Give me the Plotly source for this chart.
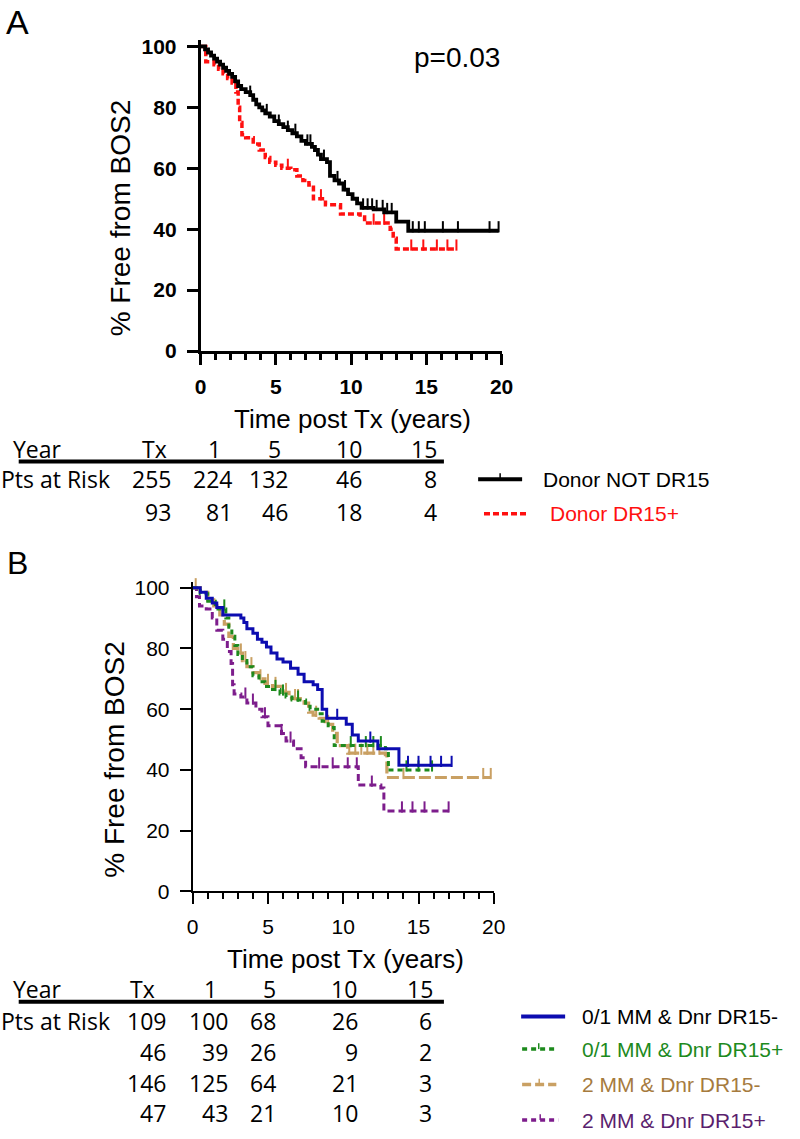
import plotly.graph_objects as go

# ---------------- Panel A data ----------------
a_not_t = [0, 0.3, 0.5, 0.7, 0.9, 1.1, 1.3, 1.5, 1.7, 1.9, 2.1, 2.3, 2.5, 2.7, 3.0, 3.3, 3.5, 3.7, 3.9,
           4.1, 4.3, 4.6, 4.9, 5.2, 5.5, 5.8, 6.1, 6.4, 6.7, 7.0, 7.4, 7.6, 7.8, 8.0, 8.4, 8.6, 8.9, 9.2,
           9.5, 9.8, 10.1, 10.4, 10.7, 11.5, 12.2, 13.0, 13.8, 19.8]
a_not_s = [100, 99, 98, 97, 96, 95, 94, 93, 92, 91, 90, 88.5, 87, 86, 85, 84, 82.5, 81, 80,
           79, 78, 77, 75.5, 74.5, 73.5, 72.5, 71.5, 70.5, 69, 68, 67, 66, 64.5, 63, 62, 57.5, 56, 55,
           53, 51.5, 50, 48.5, 47, 46.5, 45.5, 42.5, 39.5, 39.5]
a_not_cens = [3.3, 4.4, 5.2, 5.8, 6.3, 7.1, 7.3, 8.2, 9.1, 9.6, 10.8, 11.1, 11.4, 11.7, 12.1, 12.4,
              12.7, 14.1, 14.5, 14.9, 16.1, 17.1, 19.2, 19.8]

a_dr15_t = [0, 0.35, 0.9, 1.2, 1.5, 1.8, 2.1, 2.35, 2.5, 2.6, 2.75, 3.0, 3.5, 3.9, 4.3, 4.6, 5.0, 5.4,
            6.0, 6.4, 6.8, 7.2, 7.5, 8.3, 9.3, 10.6, 10.9, 12.6, 12.8, 13.0, 17.0]
a_dr15_s = [100, 95, 94, 92.5, 91, 89.5, 88, 85, 80, 75, 71, 70, 68, 66, 63.5, 62, 61, 60,
            59.5, 57.5, 56, 54.5, 50, 48, 45, 44, 42, 40, 37, 33.5, 33.5]
a_dr15_cens = [5.8, 8.0, 11.5, 12.2, 14.0, 14.8, 15.7, 16.4, 17.0]

a_names = ["Donor NOT DR15", "Donor DR15+"]
a_years = ["Tx", "1", "5", "10", "15"]
a_risk = [[255, 224, 132, 46, 8],
          [93, 81, 46, 18, 4]]
a_pvalue = "p=0.03"

# ---------------- Panel B data ----------------
b_g1_t = [0, 0.5, 0.9, 1.3, 1.6, 2.0, 3.2, 3.4, 3.6, 4.0, 4.3, 4.6, 4.9, 5.2, 5.6, 6.0, 6.5, 7.0, 7.4,
          8.0, 8.3, 8.6, 8.9, 10.2, 10.6, 11.0, 12.3, 13.7, 17.2]
b_g1_s = [100, 98.5, 96.5, 95, 93.5, 91, 90, 88.5, 86.5, 85, 83, 82, 80.5, 78.5, 76.5, 75.5, 73.5, 71.5, 69,
          68, 66.5, 60, 57, 55, 51.5, 49.5, 47, 41.5, 41.5]
b_g1_cens = [9.6, 11.8, 14.3, 15.0, 15.8, 16.5, 17.2]

b_g2_t = [0, 0.5, 1.0, 1.5, 2.2, 2.4, 2.6, 2.8, 3.0, 3.3, 3.6, 4.0, 4.4, 4.8, 5.3, 5.8, 6.2, 6.6, 7.5,
          7.8, 8.3, 8.6, 9.0, 9.4, 12.8, 13.0, 15.9]
b_g2_s = [100, 98, 95.5, 93, 90, 87, 84, 81, 78, 76, 74, 71, 69, 67.5, 66.5, 65, 64, 63, 61,
          60, 58.5, 56, 54, 48, 47, 40, 40]
b_g2_cens = [2.1, 5.5, 6.0, 7.0, 10.5, 11.5, 12.0, 12.5, 14.2, 15.0, 15.9]

b_g3_t = [0, 0.5, 1.0, 1.4, 1.8, 2.1, 2.4, 2.7, 3.0, 3.3, 3.6, 4.0, 4.4, 4.8, 5.3, 6.0, 6.4, 7.4, 7.7,
          8.0, 8.4, 8.8, 9.3, 9.6, 10.3, 12.8, 12.9, 19.8]
b_g3_s = [100, 98.5, 96, 94, 91, 88, 84, 80, 78.5, 76, 74, 72, 70, 68.5, 67.5, 65.5, 63.5, 62, 59,
          58, 57, 55, 52, 48, 45.5, 45, 37.5, 37.5]
b_g3_cens = [0.2, 3.2, 3.5, 3.9, 4.5, 5.0, 5.5, 6.2, 6.8, 7.0, 8.2, 9.0, 10.4, 10.8, 11.2, 11.6, 12.0,
             12.4, 14.0, 19.3, 19.8]

b_g4_t = [0, 0.25, 0.45, 0.9, 1.3, 1.6, 2.0, 2.3, 2.55, 2.65, 2.75, 3.2, 3.6, 4.2, 4.6, 5.0, 5.9, 6.2,
          6.7, 7.2, 7.5, 11.0, 12.5, 12.7, 17.0]
b_g4_s = [100, 97, 94, 93, 90, 86, 83, 79, 75, 68, 65, 64, 62, 60, 57.5, 54.5, 52, 49.5,
          47, 44, 41, 35, 34, 26.5, 26.5]
b_g4_cens = [3.5, 4.0, 4.8, 5.9, 6.5, 8.4, 9.3, 10.3, 10.9, 11.9, 13.9, 14.6, 15.4, 17.0]

b_names = ["0/1 MM & Dnr DR15-", "0/1 MM & Dnr DR15+", "2 MM & Dnr DR15-", "2 MM & Dnr DR15+"]
b_years = ["Tx", "1", "5", "10", "15"]
b_risk = [[109, 100, 68, 26, 6],
          [46, 39, 26, 9, 2],
          [146, 125, 64, 21, 3],
          [47, 43, 21, 10, 3]]

x_ticks = [0, 5, 10, 15, 20]
y_ticks = [0, 20, 40, 60, 80, 100]

# ---------------- helpers ----------------
W, H = 800, 1139
ARIAL = "Arial, Liberation Sans, sans-serif"
MYRIAD = "Open Sans, Noto Sans, sans-serif"


def px(x):
    return x / W


def py(y):
    return 1 - y / H


def step_at(ts, ss, c):
    val = ss[0]
    for t, s in zip(ts, ss):
        if t <= c:
            val = s
    return val


fig = go.Figure()


def add_curve(ts, ss, cens, color, width, dash, xa, ya):
    fig.add_trace(go.Scatter(x=ts, y=ss, mode="lines", line=dict(color=color, width=width, dash=dash, shape="hv"),
                             xaxis=xa, yaxis=ya, showlegend=False, hoverinfo="skip"))
    cy = [step_at(ts, ss, c) + 1.3 for c in cens]
    fig.add_trace(go.Scatter(x=cens, y=cy, mode="markers",
                             marker=dict(symbol="line-ns", size=8, line=dict(color=color, width=2)),
                             xaxis=xa, yaxis=ya, showlegend=False, hoverinfo="skip", cliponaxis=False))


BLACK = "#000000"
RED = "#ff1010"
BLUE = "#0c0cb0"
GREEN = "#1d8a1d"
TAN = "#c9a063"
PURPLE = "#7d1d8c"

add_curve(a_dr15_t, a_dr15_s, a_dr15_cens, RED, 3.5, "6px,3px", "x", "y")
add_curve(a_not_t, a_not_s, a_not_cens, BLACK, 3.8, "solid", "x", "y")

add_curve(b_g4_t, b_g4_s, b_g4_cens, PURPLE, 3, "7px,4px", "x2", "y2")
add_curve(b_g3_t, b_g3_s, b_g3_cens, TAN, 3.2, "12px,4px", "x2", "y2")
add_curve(b_g2_t, b_g2_s, b_g2_cens, GREEN, 3, "5px,4px", "x2", "y2")
add_curve(b_g1_t, b_g1_s, b_g1_cens, BLUE, 3, "solid", "x2", "y2")

# axes
def xaxis_cfg(x0, x1, bold, lw):
    return dict(domain=[px(x0), px(x1)], range=[0, 20], tickvals=x_ticks, ticks="outside",
                ticklen=11, tickwidth=lw, tickcolor="black", showline=True, linewidth=lw, linecolor="black",
                showgrid=False, zeroline=False, ticklabelstandoff=4,
                minor=dict(ticks="outside", dtick=1, tick0=0, ticklen=6, tickwidth=lw, tickcolor="black"),
                tickfont=dict(family=ARIAL, size=21, color="black", weight="bold" if bold else "normal"))


def yaxis_cfg(ytop, y0, bold, lw, anchor):
    # ytop: pixel of value 100, y0: pixel of value 0 -> range up to 102
    unit = (y0 - ytop) / 100
    top = y0 - 102 * unit
    return dict(domain=[py(y0), py(top)], range=[0, 102], tickvals=y_ticks, ticks="outside",
                ticklen=11, tickwidth=lw, tickcolor="black", showline=True, linewidth=lw, linecolor="black",
                showgrid=False, zeroline=False, ticklabelstandoff=6, anchor=anchor,
                tickfont=dict(family=ARIAL, size=21, color="black", weight="bold" if bold else "normal"))


fig.update_layout(
    width=W, height=H, margin=dict(l=0, r=0, t=0, b=0),
    paper_bgcolor="white", plot_bgcolor="white",
    xaxis=dict(xaxis_cfg(199, 507, True, 2.5), anchor="y"),
    yaxis=yaxis_cfg(42, 351, True, 2.5, "x"),
    xaxis2=dict(xaxis_cfg(191, 499, False, 2), anchor="y2"),
    yaxis2=yaxis_cfg(591, 899, False, 2, "x2"),
)

ann = []
shapes = []


def text(x, y, s, size, family=ARIAL, color="black", xanchor="center", angle=0, weight="normal"):
    ann.append(dict(x=px(x), y=py(y), xref="paper", yref="paper", text=s, showarrow=False,
                    xanchor=xanchor, yanchor="middle", textangle=angle,
                    font=dict(family=family, size=size, color=color, weight=weight)))


# panel letters and titles
text(12, 17, "A", 34)
text(12, 566, "B", 32)
text(461, 53, a_pvalue, 28)
text(118, 216, "% Free from BOS2", 28, angle=-90)
text(111, 765, "% Free from BOS2", 28, angle=-90)
text(354, 420, "Time post Tx (years)", 26)
text(347, 968, "Time post Tx (years)", 26)


def risk_table(header_y, line_y, row_ys, head_right, col_right, years, risk):
    text(5, header_y, "Year", 23, family=MYRIAD, xanchor="left")
    for xr, yl in zip(head_right, years):
        text(xr, header_y, yl, 23, family=MYRIAD, xanchor="right")
    shapes.append(dict(type="line", xref="paper", yref="paper", x0=px(13), x1=px(448),
                       y0=py(line_y), y1=py(line_y), line=dict(color="black", width=4)))
    text(-7, row_ys[0], "Pts at Risk", 23, family=MYRIAD, xanchor="left")
    for ry, row in zip(row_ys, risk):
        for xr, v in zip(col_right, row):
            text(xr, ry, str(v), 23, family=MYRIAD, xanchor="right")


risk_table(450, 463, [481, 514], [167, 222, 283, 366, 443], [171, 233, 291, 366, 443], a_years, a_risk)
risk_table(998, 1011, [1030, 1062, 1093, 1124], [154, 218, 278, 361, 439], [166, 229, 278, 362, 438],
           b_years, b_risk)


def legend_item(x0, x1, y, color, width, dash, label, tx, tcolor, tick=False):
    shapes.append(dict(type="line", xref="paper", yref="paper", x0=px(x0), x1=px(x1), y0=py(y), y1=py(y),
                       line=dict(color=color, width=width, dash=dash)))
    if tick:
        xm = (x0 + x1) / 2
        shapes.append(dict(type="line", xref="paper", yref="paper", x0=px(xm), x1=px(xm), y0=py(y),
                           y1=py(y - 6), line=dict(color=color, width=1.5)))
    text(tx, y, label, 21, color=tcolor, xanchor="left")


legend_item(483, 528, 481, BLACK, 4, "solid", a_names[0], 547, "black", tick=True)
legend_item(489, 533, 516, RED, 3.5, "6px,3px", a_names[1], 554, "#ff1010")

legend_item(527, 572, 1026, BLUE, 4, "solid", b_names[0], 587, "black")
legend_item(528, 562, 1059, GREEN, 3.5, "5px,4px", b_names[1], 587, "#1d8a1d", tick=True)
legend_item(528, 563, 1095, TAN, 3.5, "9px,4px", b_names[2], 587, "#a67b3e", tick=True)
legend_item(528, 565, 1131, PURPLE, 3.5, "5px,4px", b_names[3], 587, "#5b1f6e", tick=True)

fig.update_layout(annotations=ann, shapes=shapes)
fig.write_html("out.html", config={"displayModeBar": False},
               post_script="document.body.style.margin='0';document.body.style.overflow='hidden';"
                           "document.documentElement.style.overflow='hidden';")
